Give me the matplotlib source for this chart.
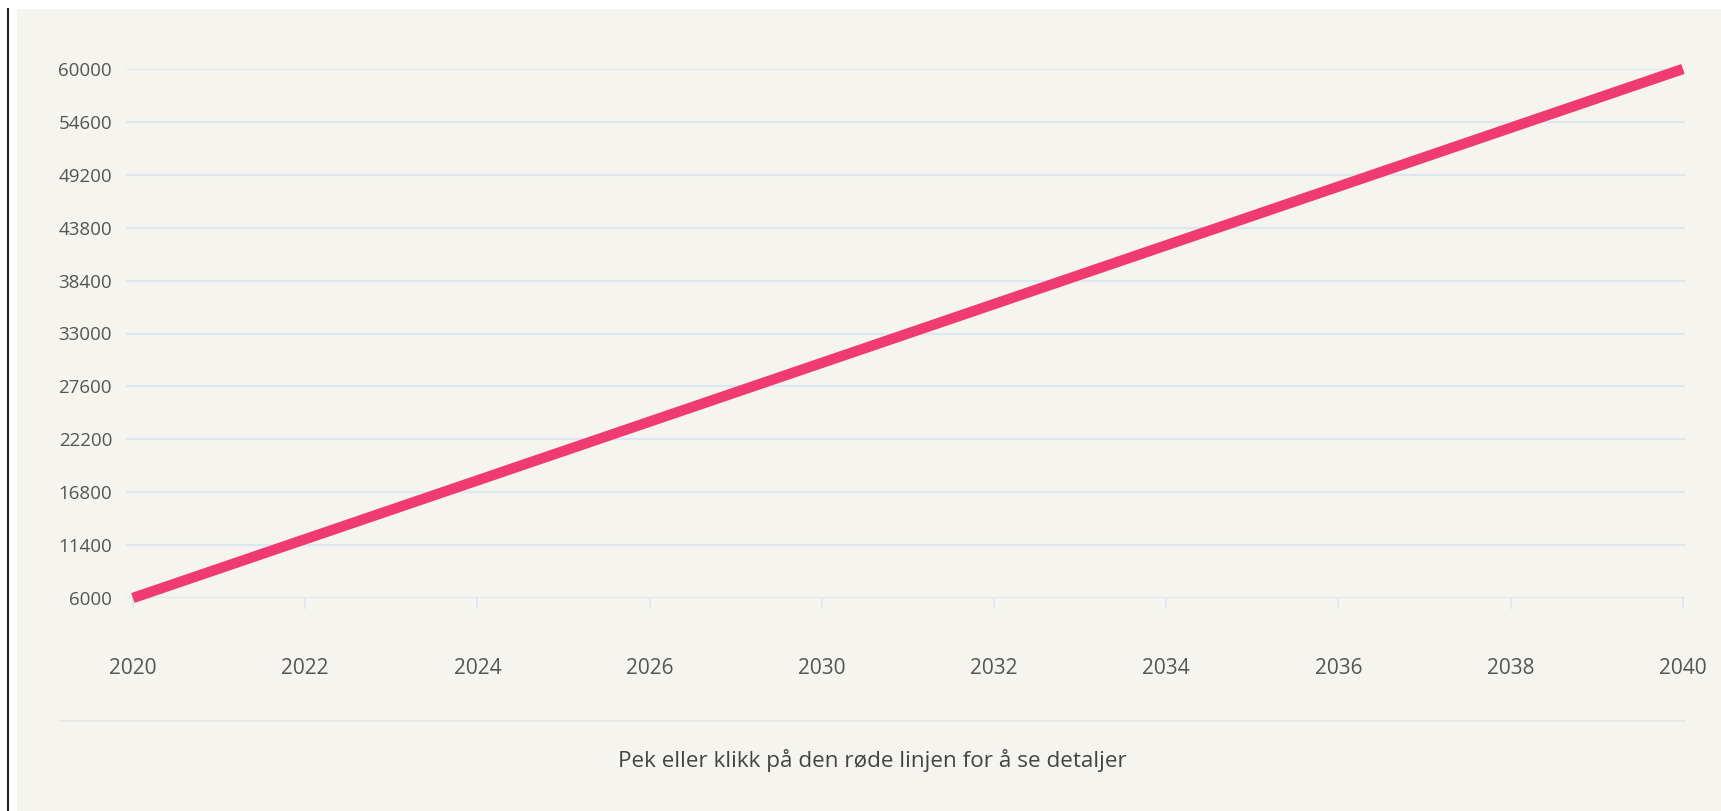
import matplotlib.pyplot as plt
from matplotlib.patches import Rectangle
from matplotlib.lines import Line2D

# data
years = ['2020', '2022', '2024', '2026', '2030', '2032', '2034', '2036', '2038', '2040']
values = [6000, 12000, 18000, 24000, 30000, 36000, 42000, 48000, 54000, 60000]
yticks = [6000, 11400, 16800, 22200, 27600, 33000, 38400, 43800, 49200, 54600, 60000]
caption = 'Pek eller klikk på den røde linjen for å se detaljer'

W, H = 1721, 811
bg = '#f5f4ef'
grid = '#dde7f0'
pink = '#f03a72'
txt = '#555555'

plt.rcParams['font.family'] = ['Open Sans', 'DejaVu Sans']

fig = plt.figure(figsize=(W / 100, H / 100), dpi=100, facecolor='white')
fig.patches.append(Rectangle((17 / W, 0), 1, 1 - 9 / H, transform=fig.transFigure,
                             facecolor=bg, edgecolor='none', zorder=-10))
fig.lines.append(Line2D([8 / W, 8 / W], [0, 1 - 9 / H], transform=fig.transFigure,
                        color='#222222', linewidth=1.5))
fig.lines.append(Line2D([60 / W, 1685 / W], [1 - 721 / H, 1 - 721 / H], transform=fig.transFigure,
                        color='#e6e6e2', linewidth=1.2))

ax = fig.add_axes([126 / W, 1 - 598 / H, 1559 / W, 529 / H])
ax.set_facecolor('none')
ax.set_zorder(5)
x = list(range(len(years)))
ax.plot(x, values, color=pink, linewidth=7.5, solid_capstyle='butt', clip_on=False, zorder=3)
ax.set_xlim(-0.04, len(years) - 1 + 0.012)
ax.set_ylim(6000, 60000)
ax.set_yticks(yticks)
ax.set_yticklabels([str(v) for v in yticks])
ax.set_xticks(x)
ax.set_xticklabels(years)
ax.grid(axis='y', color=grid, linewidth=1.6)
ax.set_axisbelow(True)
for s in ax.spines.values():
    s.set_visible(False)
ax.tick_params(axis='y', length=0, pad=10, labelsize=13.5, labelcolor=txt)
ax.tick_params(axis='x', length=8, width=1.2, color=grid, pad=35, labelsize=15, labelcolor=txt)

fig.text(872 / W, 1 - 761 / H, caption, ha='center', va='center', fontsize=16.2, color='#444444')

fig.savefig('out.png', dpi=100, facecolor='white')
